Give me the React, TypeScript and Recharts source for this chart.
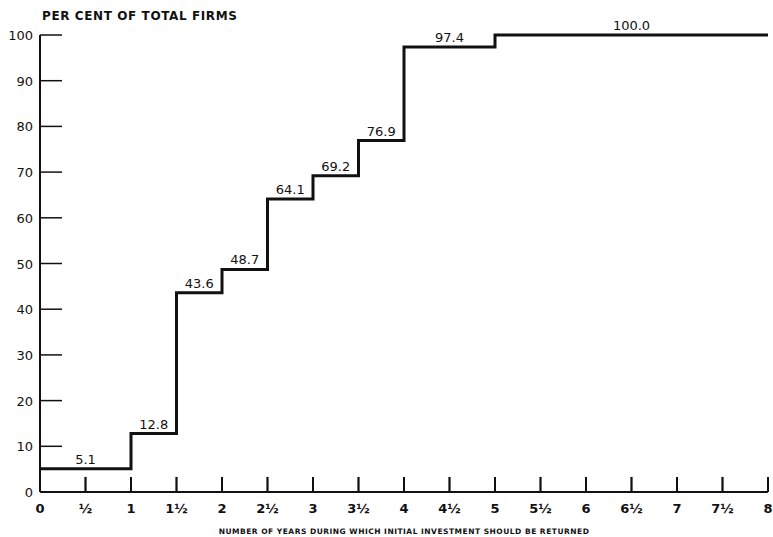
import React from "react";
import { LineChart, Line, XAxis, YAxis, ReferenceDot, ReferenceLine } from "recharts";

// step points: years -> cumulative per cent of firms
const years = [0, 1, 1.5, 2, 2.5, 3, 3.5, 4, 5, 8];
const percents = [5.1, 12.8, 43.6, 48.7, 64.1, 69.2, 76.9, 97.4, 100, 100];
const stepLabels = ["5.1", "12.8", "43.6", "48.7", "64.1", "69.2", "76.9", "97.4", "100.0"];

const xTicks = [0, 0.5, 1, 1.5, 2, 2.5, 3, 3.5, 4, 4.5, 5, 5.5, 6, 6.5, 7, 7.5, 8];
const xTickLabels = ["0", "½", "1", "1½", "2", "2½", "3", "3½", "4", "4½", "5", "5½", "6", "6½", "7", "7½", "8"];
const yTicks = [0, 10, 20, 30, 40, 50, 60, 70, 80, 90, 100];

const data = years.map((y, i) => ({ year: y, pct: percents[i] }));

const FONT = "'DejaVu Sans', sans-serif";

const YTick = (props: any) => {
  const { x, y, payload } = props;
  return (
    <g>
      <text x={x} y={y} dy={5} textAnchor="end" fontSize={13} fontFamily={FONT} fill="#111">
        {payload.value}
      </text>
      {payload.value !== 0 && (
        <line x1={x + 7} x2={x + 29} y1={y} y2={y} stroke="#111" strokeWidth={1.5} />
      )}
    </g>
  );
};

const XTick = (props: any) => {
  const { x, y, payload, index } = props;
  return (
    <g>
      {payload.value !== 0 && (
        <rect x={x - 0.75} y={y - 8 - 15} width={1.5} height={15} fill="#111" />
      )}
      <text x={x} y={y} dy={13} textAnchor="middle" fontSize={13} fontFamily={FONT} fontWeight="bold" fill="#111">
        {xTickLabels[index] ?? payload.value}
      </text>
    </g>
  );
};

export default function App() {
  return (
    <div style={{ position: "absolute", left: 0, top: 0, width: 773, height: 537, background: "#fff" }}>
      <div
        style={{
          position: "absolute",
          left: 42,
          top: 9,
          fontFamily: FONT,
          fontWeight: "bold",
          fontSize: 12,
          letterSpacing: 0.6,
          color: "#111",
        }}
      >
        PER CENT OF TOTAL FIRMS
      </div>
      <LineChart width={773} height={537} data={data} margin={{ top: 35, right: 5, bottom: 0, left: 10 }}>
        <XAxis
          dataKey="year"
          type="number"
          domain={[0, 8]}
          ticks={xTicks}
          interval={0}
          tickSize={0}
          tickMargin={8}
          tick={<XTick />}
          axisLine={{ stroke: "#111", strokeWidth: 2 }}
          height={45}
          label={{
            value: "NUMBER OF YEARS DURING WHICH INITIAL INVESTMENT SHOULD BE RETURNED",
            position: "insideBottom",
            offset: 3,
            fontSize: 7.5,
            fontWeight: "bold",
            fontFamily: FONT,
            letterSpacing: 0.5,
            fill: "#111",
          }}
        />
        <YAxis
          type="number"
          domain={[0, 100]}
          ticks={yTicks}
          interval={0}
          tickSize={0}
          tickMargin={7}
          width={30}
          tick={<YTick />}
          axisLine={{ stroke: "#111", strokeWidth: 2 }}
        />
        {xTicks
          .filter((t) => t > 0)
          .map((t) => (
            <ReferenceLine
              key={"xt" + t}
              segment={[
                { x: t, y: 0 },
                { x: t, y: 3.3 },
              ]}
              stroke="#111"
              strokeWidth={2}
              ifOverflow="extendDomain"
            />
          ))}
        <Line
          type="stepAfter"
          dataKey="pct"
          stroke="#111"
          strokeWidth={3}
          dot={false}
          isAnimationActive={false}
        />
        {stepLabels.map((lbl, i) => (
          <ReferenceDot
            key={lbl}
            x={(years[i] + years[i + 1]) / 2}
            y={percents[i]}
            r={0}
            fill="none"
            stroke="none"
            label={{ value: lbl, position: "top", offset: 5, fontSize: 13, fontFamily: FONT, fill: "#111" }}
          />
        ))}
      </LineChart>
    </div>
  );
}
